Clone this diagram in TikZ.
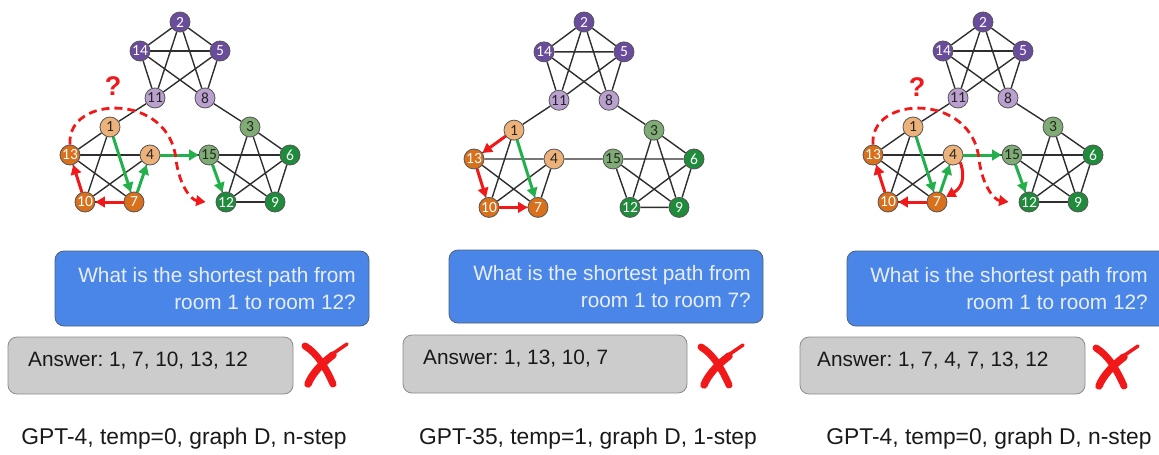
\documentclass[tikz,border=0pt]{standalone}
\usepackage{fontspec}
\setmainfont{Liberation Sans}
\newfontfamily\nodefont{Carlito}
\usetikzlibrary{arrows.meta,backgrounds}
\frenchspacing
\definecolor{purpleD}{HTML}{6A4C9C}
\definecolor{purpleL}{HTML}{B9A0CF}
\definecolor{orangeD}{HTML}{D9701C}
\definecolor{orangeL}{HTML}{EDB27A}
\definecolor{greenD}{HTML}{1E8C3A}
\definecolor{greenL}{HTML}{7FAB74}
\definecolor{arrgreen}{HTML}{22B04B}
\definecolor{arrred}{HTML}{F01818}
\definecolor{edgecol}{HTML}{2E2E2E}
\definecolor{ringcol}{HTML}{555555}
\definecolor{qblue}{HTML}{4A86E8}
\definecolor{qborder}{HTML}{50607A}
\definecolor{qtextcol}{HTML}{E8EEF8}
\definecolor{agray}{HTML}{CCCCCC}
\definecolor{aborder}{HTML}{8C8C8C}
\newcommand\roomgraph[4]{%
\begin{scope}[shift={(#2,#3)},yscale=#4]
\node[pd] (#12) at (0,0) {2};
\node[pd] (#114) at (-40,29) {14};
\node[pd] (#15) at (40,29) {5};
\node[pl] (#111) at (-25,76) {11};
\node[pl] (#18) at (25,76) {8};
\node[ol] (#11) at (-70,105) {1};
\node[od] (#113) at (-110,133) {13};
\node[ol] (#14) at (-30,133) {4};
\node[od] (#110) at (-95,180) {10};
\node[od] (#17) at (-46,180) {7};
\node[gl] (#13) at (70,105) {3};
\node[gl] (#115) at (29,133) {15};
\node[gd] (#16) at (110,133) {6};
\node[gd] (#112) at (46,180) {12};
\node[gd] (#19) at (95,180) {9};
\begin{pgfonlayer}{background}
\foreach \u/\v in {2/14,2/5,2/11,2/8,14/5,14/11,14/8,5/11,5/8,1/13,1/10,1/7,13/4,13/10,13/7,4/10,4/7,10/7,3/6,3/12,3/9,15/6,15/12,15/9,6/12,6/9,12/9,11/1,8/3,4/15}
  \draw[edge] (#1\u) -- (#1\v);
\end{pgfonlayer}
\end{scope}}
\begin{document}
\begin{tikzpicture}[x=1pt,y=-1pt,
  edge/.style={draw=edgecol, line width=1.4pt},
  room/.style={circle, draw=ringcol, line width=0.8pt, minimum size=20pt, inner sep=0pt, font=\nodefont\fontsize{15.5}{15.5}\selectfont},
  pd/.style={room, fill=purpleD, text=white},
  pl/.style={room, fill=purpleL, text=black!85},
  od/.style={room, fill=orangeD, text=white},
  ol/.style={room, fill=orangeL, text=black!85},
  gd/.style={room, fill=greenD, text=white},
  gl/.style={room, fill=greenL, text=black!85},
  garr/.style={draw=arrgreen, line width=3pt, -{Triangle[length=9.5pt,width=10.5pt]}},
  rarr/.style={draw=arrred, line width=3pt, -{Triangle[length=9.5pt,width=10.5pt]}},
  rdash/.style={draw=arrred, line width=2.8pt, dash pattern=on 8pt off 5pt, -{Triangle[length=9.5pt,width=10.5pt]}},
  qbox/.style={fill=qblue, draw=qborder, line width=0.8pt, rounded corners=9pt},
  abox/.style={fill=agray, draw=aborder, line width=0.8pt, rounded corners=9pt},
  qtext/.style={text=qtextcol, font=\fontsize{20.8}{27}\selectfont, align=right, inner sep=0pt, anchor=east},
  atext/.style={font=\fontsize{20.8}{25}\selectfont, inner sep=0pt, anchor=west, text=black!90},
  ctext/.style={font=\fontsize{22.8}{27}\selectfont, inner sep=0pt, anchor=base, text=black!90},
  qmark/.style={text=arrred, font=\bfseries\fontsize{27}{27}\selectfont, inner sep=0pt},
  xmark/.pic={
    \draw[draw=arrred, line width=7pt, line cap=round] (5,6) .. controls (17,13) and (26,28) .. (33,44);
    \draw[draw=arrred, line width=3.5pt, line cap=round] (47,4) -- (31,15);
    \draw[draw=arrred, line width=7.5pt, line cap=round] (33,15) .. controls (21,24) and (12,34) .. (8,44);
  }
]
\useasboundingbox (0,0) rectangle (1159,455);
\clip (0,0) rectangle (1159,455);

% ---------- panel 1 ----------
\roomgraph{a}{180}{22}{1}
\draw[garr] (a1) -- (a7);
\draw[garr] (a7) -- (a4);
\draw[garr] (a4) -- (a15);
\draw[garr] (a15) -- (a12);
\draw[rarr] (a7) -- (a10);
\draw[rarr] (a10) -- (a13);
\draw[rdash] (a13.north) .. controls (66,95) and (170,92) .. (176,160) .. controls (180,188) and (192,200) .. ([xshift=-10pt]a12.west);
\node[qmark] (aq) at (113,86) {?};
\draw[qbox] (55,251) rectangle (369,326);
\node[qtext] (aqt) at (356,289) {What is the shortest path from\\room 1 to room 12?};
\draw[abox] (8,337) rectangle (293,394);
\node[atext] (aat) at (28,361) {Answer: 1, 7, 10, 13, 12};
\pic at (300,340) {xmark};
\node[ctext] (acap) at (184,444) {GPT-4, temp=0, graph D, n-step};

% ---------- panel 2 ----------
\roomgraph{b}{584}{22}{1.03}
\draw[rarr] (b1) -- (b13);
\draw[rarr] (b13) -- (b10);
\draw[rarr] (b10) -- (b7);
\draw[garr] (b1) -- (b7);
\draw[qbox] (449,250) rectangle (763,323);
\node[qtext] (bqt) at (751,287) {What is the shortest path from\\room 1 to room 7?};
\draw[abox] (403,335) rectangle (687,393);
\node[atext] (bat) at (423,359) {Answer: 1, 13, 10, 7};
\pic at (696,341) {xmark};
\node[ctext] (bcap) at (588,444) {GPT-35, temp=1, graph D, 1-step};

% ---------- panel 3 ----------
\roomgraph{c}{983}{22}{1}
\draw[garr] (c1) -- (c7);
\draw[garr] (c7) -- (c4);
\draw[garr] (c4) -- (c15);
\draw[garr] (c15) -- (c12);
\draw[rarr] (c4.south east) .. controls +(6,18) and +(14,-8) .. (c7.30);
\draw[rarr] (c7) -- (c10);
\draw[rarr] (c10) -- (c13);
\draw[rdash] (c13.north) .. controls (869,95) and (973,92) .. (979,160) .. controls (983,188) and (995,200) .. ([xshift=-10pt]c12.west);
\node[qmark] (cq) at (917,87) {?};
\draw[qbox] (847,251) rectangle (1175,326);
\node[qtext] (cqt) at (1148,289) {What is the shortest path from\\room 1 to room 12?};
\draw[abox] (800,337) rectangle (1085,394);
\node[atext] (cat) at (817,361) {Answer: 1, 7, 4, 7, 13, 12};
\pic at (1091,342) {xmark};
\node[ctext] (ccap) at (989,444) {GPT-4, temp=0, graph D, n-step};
\end{tikzpicture}
\end{document}
